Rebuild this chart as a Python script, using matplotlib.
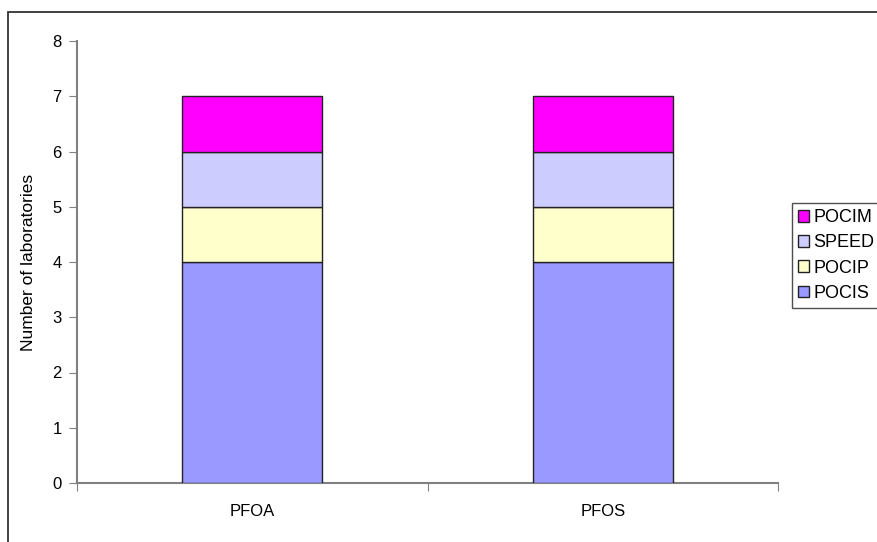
import matplotlib
matplotlib.use("Agg")
import matplotlib.pyplot as plt
import matplotlib.patches as mpatches
import numpy as np

categories = ["PFOA", "PFOS"]
series = ["POCIS", "POCIP", "SPEED", "POCIM"]
values = {
    "POCIS": [4, 4],
    "POCIP": [1, 1],
    "SPEED": [1, 1],
    "POCIM": [1, 1],
}
colors = {
    "POCIS": "#9999FF",
    "POCIP": "#FFFFCC",
    "SPEED": "#CCCCFF",
    "POCIM": "#FF00FF",
}

plt.rcParams['font.family'] = ['Liberation Sans', 'DejaVu Sans']
plt.rcParams['font.size'] = 12

fig = plt.figure(figsize=(8.77, 5.42), dpi=100)
# outer chart border (right/bottom fall outside the image)
fig.patches.append(mpatches.Rectangle((8 / 877, -0.05), 1.0, 1 - 12 / 542 + 0.05,
                                      transform=fig.transFigure, fill=False,
                                      edgecolor='#333333', linewidth=1.3))

ax = fig.add_axes([77 / 877, 1 - 483 / 542, 701 / 877, 442 / 542])
x = np.arange(len(categories))
bottom = np.zeros(len(categories))
handles = []
for s in series:
    b = ax.bar(x, values[s], 0.4, bottom=bottom, color=colors[s],
               edgecolor='#222222', linewidth=1.0, label=s, zorder=3)
    bottom += np.array(values[s])
    handles.append(b)

ax.set_xlim(-0.5, 1.5)
ax.set_ylim(0, 8)
ax.set_yticks(range(0, 9))
ax.set_xticks([-0.5, 0.5, 1.5])
ax.set_xticklabels([])
ax.set_xticks(x, minor=True)
ax.set_xticklabels(categories, minor=True)
ax.tick_params(axis='x', which='minor', length=0, pad=15)
ax.tick_params(axis='x', which='major', length=6, color='#808080', direction='out')
ax.tick_params(axis='y', length=6, color='#808080', direction='out', pad=5)
for sp in ['top', 'right']:
    ax.spines[sp].set_visible(False)
for sp in ['left', 'bottom']:
    ax.spines[sp].set_color('#808080')
    ax.spines[sp].set_linewidth(1.5)
ax.set_ylabel("Number of laboratories", fontsize=12.5, labelpad=12)

leg = fig.legend(handles[::-1], series[::-1], loc='upper left',
                 bbox_to_anchor=(792 / 877, 1 - 203 / 542), frameon=True,
                 fancybox=False, handlelength=0.6, handleheight=0.6,
                 handletextpad=0.25, labelspacing=0.45, borderpad=0.35,
                 borderaxespad=0, prop={'size': 13})
leg.get_frame().set_edgecolor('#222222')
leg.get_frame().set_linewidth(1.0)

fig.savefig("out.png", dpi=100)
